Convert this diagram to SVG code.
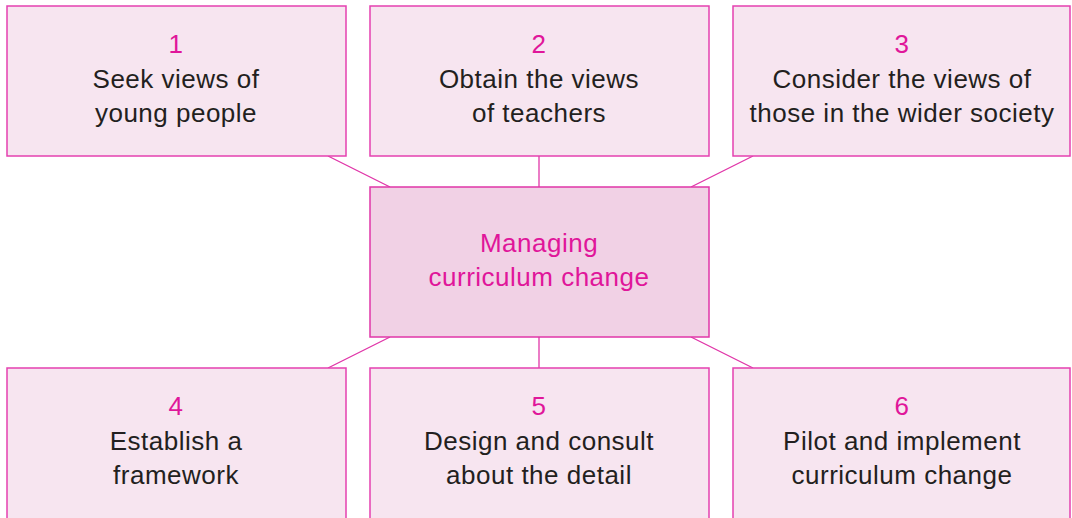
<svg xmlns="http://www.w3.org/2000/svg" width="1072" height="518" viewBox="0 0 1072 518">
  <style>
    .box { fill: #f7e5f0; stroke: #e540b0; stroke-width: 1.5; }
    .hub { fill: #f1d1e5; stroke: #e036a8; stroke-width: 1.5; }
    .link { stroke: #e036a8; stroke-width: 1.3; fill: none; }
    text { font-family: "Liberation Sans", Arial, sans-serif; font-size: 26px; letter-spacing: 0.5px; text-anchor: middle; }
    .num { fill: #e0169a; }
    .lbl { fill: #231f20; }
    .hubtxt { fill: #e0169a; }
  </style>
  <rect width="1072" height="518" fill="#ffffff"/>

  <g id="connectors">
    <line class="link" x1="328" y1="156" x2="390" y2="187"/>
    <line class="link" x1="539" y1="156" x2="539" y2="187"/>
    <line class="link" x1="753" y1="156" x2="691" y2="187"/>
    <line class="link" x1="390" y1="337" x2="328" y2="368"/>
    <line class="link" x1="539" y1="337" x2="539" y2="368"/>
    <line class="link" x1="691" y1="337" x2="753" y2="368"/>
  </g>

  <g id="node1">
    <rect class="box" x="7" y="6" width="339" height="150"/>
    <text class="num" x="176" y="53">1</text>
    <text class="lbl" x="176" y="88">Seek views of</text>
    <text class="lbl" x="176" y="122">young people</text>
  </g>
  <g id="node2">
    <rect class="box" x="370" y="6" width="339" height="150"/>
    <text class="num" x="539" y="53">2</text>
    <text class="lbl" x="539" y="88">Obtain the views</text>
    <text class="lbl" x="539" y="122">of teachers</text>
  </g>
  <g id="node3">
    <rect class="box" x="733" y="6" width="337" height="150"/>
    <text class="num" x="902" y="53">3</text>
    <text class="lbl" x="902" y="88">Consider the views of</text>
    <text class="lbl" x="902" y="122">those in the wider society</text>
  </g>

  <g id="hub">
    <rect class="hub" x="370" y="187" width="339" height="150"/>
    <text class="hubtxt" x="539" y="252">Managing</text>
    <text class="hubtxt" x="539" y="286">curriculum change</text>
  </g>

  <g id="node4">
    <rect class="box" x="7" y="368" width="339" height="160"/>
    <text class="num" x="176" y="415">4</text>
    <text class="lbl" x="176" y="450">Establish a</text>
    <text class="lbl" x="176" y="484">framework</text>
  </g>
  <g id="node5">
    <rect class="box" x="370" y="368" width="339" height="160"/>
    <text class="num" x="539" y="415">5</text>
    <text class="lbl" x="539" y="450">Design and consult</text>
    <text class="lbl" x="539" y="484">about the detail</text>
  </g>
  <g id="node6">
    <rect class="box" x="733" y="368" width="337" height="160"/>
    <text class="num" x="902" y="415">6</text>
    <text class="lbl" x="902" y="450">Pilot and implement</text>
    <text class="lbl" x="902" y="484">curriculum change</text>
  </g>
</svg>
